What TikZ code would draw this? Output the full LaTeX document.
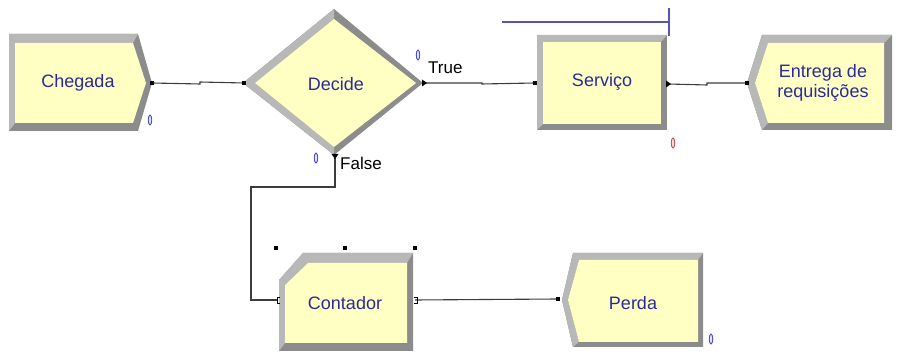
\documentclass[tikz,border=0pt]{standalone}
\usepackage{fontspec}
\setmainfont{Liberation Sans}
\usetikzlibrary{shapes.geometric}
\definecolor{modfill}{HTML}{FFFFC4}
\definecolor{bevlight}{HTML}{B8B8B8}
\definecolor{bevdark}{HTML}{8C8C8C}
\definecolor{modtext}{HTML}{2A2A9A}
\definecolor{conn}{HTML}{3C3C3C}
\definecolor{ovalblue}{HTML}{4A4AD0}
\definecolor{ovalred}{HTML}{D04A4A}
\definecolor{bluebar}{HTML}{5555B5}
\begin{document}
\begin{tikzpicture}[x=1pt,y=-1pt,
  modlabel/.style={text=modtext,font=\fontsize{18}{21}\selectfont,align=center,inner sep=0pt},
  smalllabel/.style={text=black,font=\fontsize{17}{20}\selectfont,inner sep=0pt},
  darkband/.style={fill=bevdark,draw=none},
  lightband/.style={fill=bevlight,draw=none},
  innerface/.style={fill=modfill,draw=none},
  connline/.style={draw=conn,line width=1.1pt},
  pin/.style={fill=black,draw=none,minimum size=4pt,inner sep=0pt,rectangle},
  handle/.style={fill=black,draw=none,minimum size=4pt,inner sep=0pt,rectangle},
  ovalb/.style={draw=ovalblue,fill=ovalblue!15,line width=0.9pt,ellipse,minimum width=3.5pt,minimum height=10pt,inner sep=0pt},
  ovalr/.style={draw=ovalred,fill=ovalred!15,line width=0.9pt,ellipse,minimum width=3.5pt,minimum height=10pt,inner sep=0pt}
]
\useasboundingbox (0,0) rectangle (897,352);

% ---------- Chegada ----------
\fill[darkband] (9,34) -- (138,34) -- (152,83) -- (138,131) -- (9,131) -- cycle;
\fill[lightband] (9,34) -- (138,34) -- (133,43) -- (15,43) -- cycle;
\fill[lightband] (9,34) -- (15,43) -- (15,123) -- (9,131) -- cycle;
\fill[innerface] (15,43) -- (133,43) -- (146,83) -- (133,123) -- (15,123) -- cycle;
\node[modlabel] (chegada) at (78,83) {Chegada};

% ---------- Decide ----------
\fill[darkband] (243,83) -- (334,9) -- (423,83) -- (334,155) -- cycle;
\fill[lightband] (243,83) -- (334,9) -- (334,19) -- (255,83) -- cycle;
\fill[lightband] (243,83) -- (255,83) -- (334,147) -- (334,155) -- cycle;
\fill[innerface] (255,83) -- (334,19) -- (416,83) -- (334,147) -- cycle;
\node[modlabel] (decide) at (336,84) {Decide};

% ---------- Servico ----------
\fill[darkband] (537,35) rectangle (667,130);
\fill[lightband] (537,35) -- (667,35) -- (661,42) -- (543,42) -- (543,124) -- (537,130) -- cycle;
\fill[innerface] (543,42) rectangle (661,124);
\node[modlabel] (servico) at (602,82) {Serviço};

% ---------- Entrega de requisicoes ----------
\fill[darkband] (747,83) -- (762,35) -- (892,35) -- (892,130) -- (762,130) -- cycle;
\fill[lightband] (747,83) -- (762,35) -- (892,35) -- (884,43) -- (768,43) -- (755,83) -- (768,123) -- (762,130) -- cycle;
\fill[innerface] (755,83) -- (768,43) -- (884,43) -- (884,123) -- (768,123) -- cycle;
\node[modlabel] (entrega) at (823,83) {Entrega de\\[-1pt]requisições};

% ---------- Contador ----------
\fill[darkband] (279,280) -- (303,253) -- (413,253) -- (413,351) -- (279,351) -- cycle;
\fill[lightband] (279,280) -- (303,253) -- (413,253) -- (407,263) -- (308,263) -- (285,285) -- (285,343) -- (279,351) -- cycle;
\fill[innerface] (285,285) -- (308,263) -- (407,263) -- (407,343) -- (285,343) -- cycle;
\node[modlabel] (contador) at (345,303) {Contador};

% ---------- Perda ----------
\fill[darkband] (562,300) -- (573,253) -- (703,253) -- (703,347) -- (573,347) -- cycle;
\fill[lightband] (562,300) -- (573,253) -- (703,253) -- (698,260) -- (579,260) -- (568,300) -- (579,342) -- (573,347) -- cycle;
\fill[innerface] (568,300) -- (579,260) -- (698,260) -- (698,342) -- (579,342) -- cycle;
\node[modlabel] (perda) at (633,303) {Perda};

% ---------- connection points ----------
\coordinate (chegOut) at (152,83);
\coordinate (decIn) at (244,83);
\coordinate (decTrue) at (425,83);
\coordinate (decFalse) at (335,155);
\coordinate (servIn) at (535,83);
\coordinate (servOut) at (668,84);
\coordinate (entIn) at (747,83);
\coordinate (contIn) at (278,300);
\coordinate (contOut) at (415,300);
\coordinate (perdaIn) at (558,299);

% ---------- connectors ----------
\draw[connline] (chegOut) -- (200,84) -- (200,82) -- (decIn);
\draw[connline] (decTrue) -- (482,83) -- (482,84) -- (servIn);
\draw[connline] (servOut) -- (707,85) -- (707,83) -- (entIn);
\draw[connline] (decFalse) -- (335,187) -- (251,187) -- (251,300) -- (contIn);
\draw[connline] (contOut) -- (perdaIn);

% ---------- pins ----------
\node[pin] (p1) at (chegOut) {};
\node[pin] (p2) at (decIn) {};
\node[pin] (p3) at (servIn) {};
\node[pin] (p4) at (entIn) {};
\node[pin] (p5) at (perdaIn) {};
\fill[black] (decTrue) ++(-3,-3.5) -- ++(5,3.5) -- ++(-5,3.5) -- cycle;
\fill[black] (servOut) ++(-2,-3.5) -- ++(5,3.5) -- ++(-5,3.5) -- cycle;
\fill[black] (decFalse) ++(-3.5,-1) -- ++(7,0) -- ++(-3.5,5) -- cycle;
\draw[black,line width=0.8pt] (280,297) -- (277,297) -- (277,303) -- (280,303);
\draw[black,line width=0.8pt] (414,297) -- (417,297) -- (417,303) -- (414,303);

% ---------- selection handles ----------
\node[handle] (h1) at (276,248) {};
\node[handle] (h2) at (345,248) {};
\node[handle] (h3) at (415,248) {};

% ---------- labels ----------
\node[smalllabel,anchor=west] (truelbl) at (428,68) {True};
\node[smalllabel,anchor=west] (falselbl) at (340,163) {False};

% ---------- queue bar ----------
\draw[bluebar,line width=1.2pt] (502,22) -- (669,22);
\draw[bluebar,line width=1.2pt] (669,8) -- (669,36);

% ---------- ovals ----------
\node[ovalb] (o1) at (150,120) {};
\node[ovalb] (o2) at (418,55) {};
\node[ovalb] (o3) at (316,158) {};
\node[ovalr] (o4) at (673,143) {};
\node[ovalb] (o5) at (711,339) {};
\end{tikzpicture}
\end{document}
